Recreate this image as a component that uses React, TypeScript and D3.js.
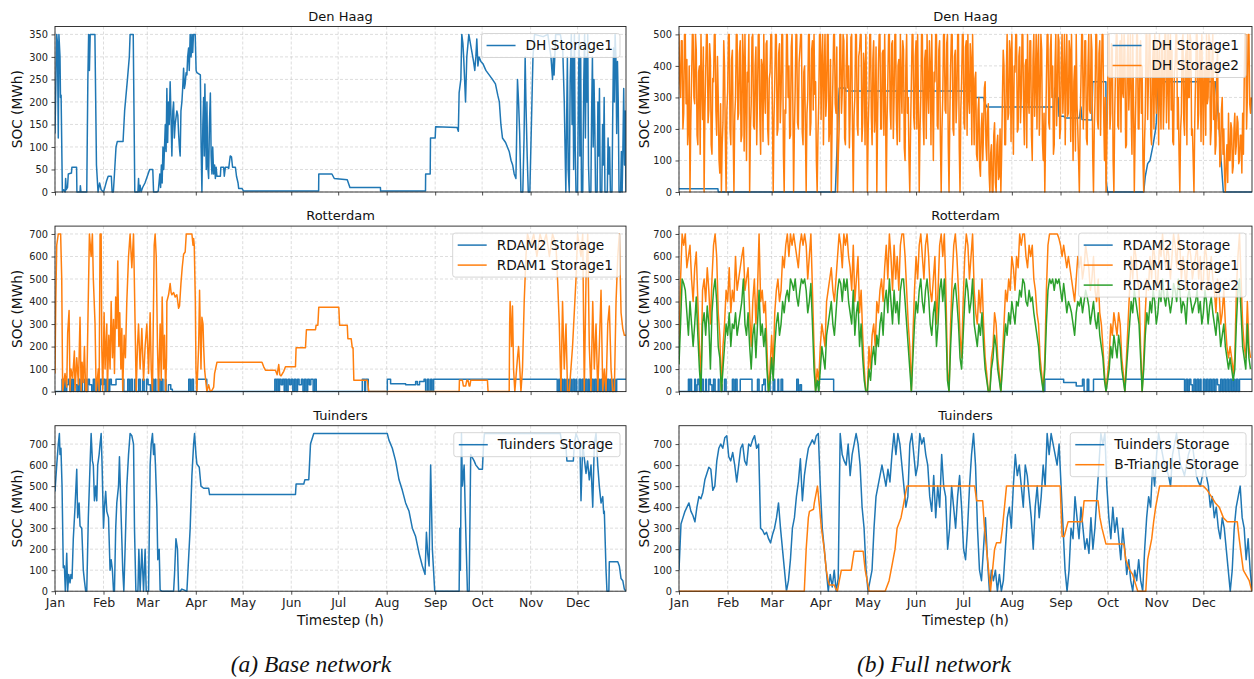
import React, { useEffect, useRef } from "react";
import * as d3 from "d3";

type Pt = [number, number];

// ---------------------------------------------------------------------------
// State of charge (MWh) per storage, as [day of year, SOC] pairs or as
// evenly sampled series. Year: 2019, hourly simulation.
// ---------------------------------------------------------------------------

const MONTH_FORMAT = "%b";

// ---- (a) Base network ----
const DH_STORAGE1_BASE: Pt[] = [
  [0,130],[0.6,250],[1.1,350],[1.6,330],[2.1,120],[2.5,350],[3.2,300],[3.5,210],[3.9,215],[4.7,0],[5.5,5],[6.5,0],[6.8,30],[7.2,5],[8,10],[8.5,40],[10.5,42],[10.8,55],[13.8,55],[14,0],[16,0],[16.2,14],[16.6,0],[20.3,0],[21,250],[21.5,350],[22,270],[22.5,350],[25.5,350],[26.5,60],[27.5,0],[28.5,20],[29.5,5],[31,0],[32,12],[33,25],[34,35],[36,35],[36.5,0],[37.3,0],[38,40],[39,100],[39.8,112],[43.5,112],[44.5,180],[46.3,250],[47.5,300],[48,350],[50,350],[51,0],[53,0],[53.4,30],[53.8,0],[54.4,15],[55,0],[56,10],[57.5,20],[58.5,30],[59.5,40],[60.5,50],[62.5,50],[63,0],[65,0],[66,2],[67,40],[67.5,10],[68,60],[68.5,20],[69,100],[69.5,50],[70.5,150],[71,90],[71.5,230],[72,110],[72.5,200],[73,150],[73.6,245],[74.2,160],[74.7,80],[75.3,180],[75.8,200],[76.3,120],[76.8,150],[77.9,180],[78.5,170],[79,130],[79.5,100],[80,80],[80.5,180],[81.1,200],[81.6,230],[82.2,275],[82.7,230],[83.2,240],[83.8,265],[84.3,260],[84.8,300],[85.4,320],[85.8,270],[86.4,350],[87,300],[87.5,350],[88,310],[88.5,350],[89.6,350],[90.2,270],[90.7,265],[92.9,260],[93.4,100],[93.9,0],[94.5,150],[95,210],[95.4,80],[95.8,240],[96.3,120],[96.7,50],[97.1,200],[97.6,60],[98.2,30],[98.7,150],[99.3,220],[99.8,80],[100.3,40],[100.8,100],[101.4,40],[102,60],[102.5,30],[103,55],[103.5,35],[105.7,35],[106,55],[107.8,55],[108.2,35],[108.9,55],[110.5,55],[111,52],[112,80],[112.8,78],[113.5,55],[115.3,55],[116,35],[117,20],[117.4,8],[119.5,8],[120.5,2],[168.5,2],[168.6,40],[177,40],[178.5,30],[186.8,27],[188.5,10],[208,10],[208.1,2],[236.8,2],[236.9,40],[239.8,40],[240,120],[243,120],[243.3,145],[257,143],[257.8,135],[258.3,220],[259.4,250],[260,350],[260.7,330],[261.2,300],[261.8,250],[262.4,200],[263.2,300],[264.5,350],[265.5,330],[266.5,310],[267.5,290],[268.3,270],[269,300],[269.6,340],[270.3,280],[271,300],[272.2,290],[273.5,285],[275.4,270],[277.5,260],[279.6,250],[281.5,240],[283,215],[284,200],[285,150],[286,120],[288,110],[290.3,90],[291.5,70],[292.5,60],[293.5,40],[294.6,30],[295,110],[295.6,250],[296.3,200],[297,130],[297.8,0],[299,0],[299.8,120],[300.5,300],[301,200],[301.8,80],[302.5,0],[303.5,0],[304.5,150],[305.5,300],[306.5,350],[312,345],[315,350],[317,300],[318,250],[318.5,300],[319,260],[320,350],[323,350],[324.5,320],[325.5,200],[326,100],[326.5,0],[327,150],[327.5,300],[328,50],[328.7,0],[329.3,250],[330,350],[330.5,150],[331,300],[331.5,50],[332,350],[332.5,100],[333,0],[334,0],[334.5,200],[335,350],[335.5,80],[336,300],[336.5,0],[337.3,0],[338,250],[338.5,350],[339,120],[339.5,300],[340,200],[340.5,350],[341,60],[341.5,0],[342.5,0],[343,180],[343.5,300],[344,100],[344.5,250],[345,150],[345.5,0],[346.5,0],[347,200],[347.5,80],[348,230],[348.5,0],[349.5,0],[350,150],[350.5,60],[351,210],[351.5,0],[353,0],[353.5,120],[354,40],[354.5,100],[355,0],[356,0],[356.5,180],[357,320],[357.5,200],[358,350],[358.5,300],[359,130],[359.5,290],[360,200],[360.5,0],[361.5,0],[362,90],[362.5,0],[363,100],[363.5,230],[364,60],[364.5,180],[364.9,0],
];

// Step levels: [start day, SOC]
const RDAM2_STORAGE_BASE: Pt[] = [
  [0,0],[4.5,55],[5.5,0],[6,55],[7,0],[7.5,30],[8.5,55],[9.5,0],[10.5,55],[11.5,0],[12,55],[13,30],[14,0],[15,55],[16,0],[17,55],[17.5,0],[19,55],[20,0],[21,55],[22,30],[23.5,0],[24.5,55],[25.5,0],[27,55],[28,0],[29,55],[30,30],[31,55],[32,0],[33,55],[34,0],[35,55],[36,30],[38,30],[39,55],[43.5,55],[44,0],[46.5,55],[47.5,0],[48.5,55],[49.5,0],[51,55],[52,0],[53.5,55],[54.5,0],[56,55],[57,0],[58.5,55],[59.5,30],[61,0],[62,55],[63,0],[64,55],[64.5,0],[66,55],[67,0],[68,55],[69,0],[70.5,55],[71,0],[72.5,30],[74,10],[75,0],[85.5,55],[86.5,0],[87.5,55],[88.5,0],[90.5,55],[96.5,55],[97,0],[140,0],[140.5,55],[141.5,0],[142,55],[143,0],[143.5,55],[144.5,30],[145.5,55],[146.5,0],[147,55],[148,0],[149,55],[150,30],[151,55],[152,0],[153,55],[154,0],[155,55],[156,30],[157.5,55],[158.5,0],[159.5,55],[160.5,0],[161.5,55],[162.5,30],[163.5,55],[165,0],[166,55],[167,0],[196.4,55],[197.9,0],[198.5,55],[200.2,0],[212.4,55],[214.5,35],[224.1,30],[229.5,30],[230.5,45],[231.6,30],[233,45],[235.9,55],[236.9,0],[238,55],[239,0],[240.1,55],[241,0],[242,55],[320.2,55],[321,0],[322,55],[322.5,0],[323.5,55],[324.5,0],[325.5,55],[326,0],[327,55],[328,0],[329,55],[330,0],[331,55],[332,0],[333,55],[333.5,0],[335,55],[336,0],[337,55],[338,0],[339,55],[340,0],[341,55],[341.5,0],[343,55],[344,0],[345,55],[346,0],[347,55],[348,0],[349,55],[350,0],[351,55],[352,0],[353,55],[354,0],[355,55],[356,0],[357,55],[358,0],[359,55],[364.9,55],
];

const RDAM1_STORAGE1_BASE: Pt[] = [
  [0,80],[0.5,400],[1.1,650],[2.1,700],[3.6,700],[4.3,500],[4.9,0],[6.4,80],[7.5,20],[8.1,260],[9,360],[9.6,0],[10.2,100],[11.3,60],[12.4,180],[12.8,0],[13.9,150],[15,30],[16,330],[16.7,0],[17.3,130],[18.1,40],[18.8,200],[19.6,0],[20.3,0],[21,300],[22,700],[23.1,600],[23.9,700],[24.5,500],[25.6,300],[26.3,0],[27.7,100],[28.2,0],[28.8,700],[29.5,700],[29.9,200],[30.5,0],[31.4,350],[32,100],[33.1,300],[33.5,0],[34.4,250],[35.2,100],[35.9,400],[36.7,150],[37.4,320],[38,80],[38.8,420],[39.5,280],[40.1,580],[40.8,200],[41.4,350],[42.1,100],[42.7,280],[43.3,0],[44.2,250],[45,150],[45.9,400],[47,600],[48,700],[49.1,550],[50.2,700],[51.2,300],[51.9,0],[52.7,200],[53.4,300],[54.4,100],[55.5,280],[56.6,50],[57.6,200],[58.7,300],[59.8,80],[60.8,350],[61.5,100],[62.3,0],[63.4,650],[64,700],[64.7,600],[65.5,200],[66.2,0],[67.2,300],[67.9,50],[68.5,420],[69.4,100],[70,250],[70.7,0],[71.3,150],[71.5,400],[72.6,430],[73.6,480],[74.2,440],[74.7,430],[75.8,440],[76.8,420],[77.9,430],[79,370],[79.6,380],[80.5,480],[81.3,550],[82.2,610],[83.2,620],[83.9,700],[87.5,700],[88.2,650],[88.6,680],[89,650],[89.7,400],[90.1,100],[90.7,0],[91.8,200],[92.4,450],[93.3,100],[93.9,330],[94.6,300],[95,200],[95.6,100],[96.3,50],[97.1,0],[98.2,30],[99.3,0],[100.3,5],[101.4,20],[102,80],[102.9,110],[103.5,130],[132.3,130],[133.4,110],[134.5,95],[138.7,95],[140.9,95],[142,75],[143,120],[143.7,75],[144.5,70],[146.2,90],[147.3,110],[153.7,110],[154.1,195],[160.1,195],[160.7,275],[166.5,275],[166.9,295],[168,295],[168.6,375],[181.4,375],[181.9,295],[186.8,295],[187.2,235],[189.3,235],[190,195],[190.5,195],[191,50],[199.6,50],[200.6,0],[258.3,0],[258.5,50],[260.4,50],[261,25],[262.5,25],[263.2,50],[264,50],[264.7,25],[265.2,25],[265.7,50],[276.4,50],[276.8,0],[290.3,0],[290.6,300],[290.9,400],[291.8,200],[292.4,380],[293.1,100],[293.9,0],[295.6,150],[296.3,200],[297.1,100],[297.8,0],[298.8,100],[299.9,400],[301,600],[302,700],[304,650],[306,700],[308,600],[310,700],[312,650],[314,700],[316,600],[318,700],[320.2,650],[321.2,500],[322.3,300],[323.4,0],[324.4,400],[325.5,100],[326.6,300],[327.6,0],[328.7,0],[330.8,200],[333,500],[334,700],[336.2,600],[337.3,700],[338.3,0],[339.4,500],[340.5,700],[341.5,200],[342.6,0],[343.7,400],[344.7,100],[345.8,300],[346.9,0],[347.9,200],[349,450],[350.1,0],[351.1,100],[352.2,0],[353.3,300],[354.3,380],[355.4,100],[356.5,0],[357.5,0],[358.6,400],[359.7,600],[360.7,700],[361.8,350],[362.9,280],[363.9,250],[364.9,250],
];

const TUINDERS_STORAGE_BASE: Pt[] = [
  [0,475],[1.1,600],[2.1,700],[2.8,750],[3.2,650],[3.8,680],[4.5,500],[5.3,112],[6,120],[6.6,0],[7.5,180],[8.1,0],[8.8,80],[9.6,40],[10.2,80],[10.9,60],[11.7,250],[12.8,400],[13.9,580],[14.5,350],[15.4,420],[16,310],[17.1,300],[18.1,100],[18.8,50],[19.6,0],[20.3,0],[21.3,350],[22.4,600],[23.1,750],[23.9,620],[24.5,600],[25.2,430],[26,500],[26.7,430],[27.3,600],[28.2,650],[28.8,700],[29.5,750],[30.1,600],[31,300],[31.6,400],[32.4,475],[33.1,380],[34.2,350],[35.2,100],[35.9,150],[36.7,100],[37.4,0],[38,0],[38.8,300],[39.5,420],[40.6,500],[41.2,640],[42.1,400],[42.7,250],[43.3,100],[44,0],[44.8,200],[45.9,500],[47,650],[48,750],[49.1,740],[50.2,700],[50.8,300],[51.7,0],[53,0],[53.6,200],[54.4,0],[55.5,200],[56.6,0],[57.6,200],[58.3,0],[59.8,0],[60.8,600],[61.5,700],[62.3,750],[63,650],[63.6,700],[64.2,600],[65.1,400],[65.7,150],[66.6,200],[67.2,5],[68.3,0],[75.8,0],[76.4,80],[77.3,250],[78.3,200],[79,0],[80,0],[81.1,10],[84.3,0],[86.4,300],[87.5,550],[88.6,700],[89.2,750],[90.1,650],[90.7,605],[92.2,590],[93.3,500],[95,490],[98.2,490],[98.8,460],[153.7,460],[154.1,510],[159,510],[159.7,530],[162.2,530],[163.3,700],[165.4,750],[212.4,750],[213.4,720],[215.6,680],[217.7,620],[219.9,530],[222,480],[224.1,420],[226.3,380],[228.4,300],[230.5,260],[232.7,180],[234.8,120],[236.5,80],[237.4,280],[238.2,180],[239.1,120],[240.1,600],[241.2,200],[242.7,0],[258.3,0],[258.7,300],[259.1,100],[259.8,750],[260.4,500],[261.5,600],[262.5,300],[263.6,0],[264.7,0],[265.7,650],[267.9,620],[269,600],[271.1,580],[273.2,580],[273.9,700],[274.5,750],[323,750],[324,700],[326.6,680],[327.2,620],[331.3,620],[331.9,700],[333,750],[335.5,700],[336.2,430],[337.3,700],[339.4,560],[340.4,620],[341.5,530],[342.6,600],[343.7,400],[344.7,700],[345.8,750],[346.9,600],[347.9,500],[349,420],[350.1,450],[350.7,370],[351.1,380],[352.2,100],[352.8,0],[354,0],[354.3,140],[359.7,140],[360.7,120],[361.8,60],[362.9,50],[363.9,10],[364.9,0],
];

// ---- (b) Full network ----
const DH_STORAGE1_FULL: Pt[] = [
  [0,10],[24.8,10],[25,0],[99.6,0],[100.5,120],[101,190],[101.5,280],[102.1,330],[105.9,330],[106,320],[187,320],[187.2,300],[194,300],[194.6,285],[196,270],[239,270],[239.3,330],[240,300],[241.5,300],[242,240],[245,240],[246,235],[255,235],[256,270],[256.7,230],[263,228],[263.5,350],[271.9,350],[272.2,30],[273,0],[296,0],[297,50],[298.5,90],[300,100],[302,150],[303.6,200],[304,220],[305,350],[341.6,350],[342.5,300],[344.1,200],[345,120],[346.7,0],[364.9,0],
];

// Half-daily values (00:00 and 12:00), day 0 .. 364
const DH_STORAGE2_FULL: number[] = [
  500,350,300,480,480,200,250,500,500,280,420,150,200,400,0,220,350,500,500,300,
  280,500,450,180,150,380,400,120,500,340,230,460,0,250,380,500,500,220,260,470,
  420,150,120,360,350,500,500,260,180,430,300,100,60,280,0,150,220,480,400,180,
  0,260,320,500,500,200,150,420,450,180,0,240,300,500,500,230,250,440,480,160,
  180,500,420,130,500,300,100,380,350,500,0,200,280,490,500,210,200,400,460,150,
  300,500,500,240,120,420,400,160,500,320,250,470,480,200,150,360,380,500,500,250,
  0,230,350,500,500,180,200,440,470,220,300,500,500,120,0,260,250,500,500,300,
  400,170,180,460,500,280,0,200,320,500,500,220,200,410,450,500,500,190,150,380,
  400,200,0,250,300,500,500,180,220,450,480,260,500,310,350,100,0,180,280,500,
  500,230,420,500,150,380,500,240,300,500,500,160,200,420,0,210,350,500,500,280,
  250,460,0,120,200,500,500,250,320,500,480,170,150,400,500,330,400,140,250,490,
  500,200,0,240,300,500,500,210,180,430,450,500,500,160,220,440,400,150,500,300,
  0,200,300,500,500,240,150,420,480,190,250,460,0,230,400,500,500,200,200,440,
  450,180,500,300,0,220,350,500,500,260,200,470,480,170,300,500,500,230,150,400,
  420,160,500,350,250,480,450,140,100,400,500,250,300,100,0,200,350,500,500,240,
  200,430,480,200,500,280,0,190,300,500,500,230,150,420,450,170,500,320,250,480,
  400,150,500,300,100,380,350,500,500,210,200,450,480,160,0,200,300,500,500,260,
  250,470,500,150,0,240,400,500,500,200,180,430,450,220,300,500,500,140,0,260,
  350,500,500,220,200,460,480,180,500,300,250,470,420,150,500,330,150,360,380,120,
  100,260,300,80,50,200,250,100,200,330,350,150,100,250,280,60,0,120,150,0,
  0,180,220,30,0,150,180,40,50,200,0,120,300,450,400,150,150,380,500,230,
  250,480,450,160,500,300,120,400,380,500,500,190,200,430,460,220,300,500,500,260,
  150,400,420,140,500,300,250,480,480,180,100,420,500,240,350,500,200,430,500,180,
  300,500,450,160,100,250,0,180,350,500,500,220,200,450,500,300,400,120,150,400,
  500,210,300,500,480,170,200,420,500,250,350,500,150,380,500,240,250,480,450,160,
  500,300,100,350,400,130,500,280,200,100,0,220,350,500,500,200,300,480,480,170,
  150,400,500,260,250,500,450,120,0,200,300,500,500,230,200,440,480,180,350,500,
  500,250,100,300,0,150,300,500,500,200,250,470,450,100,0,240,380,500,500,210,
  200,460,480,190,500,320,300,500,450,140,150,420,500,260,350,500,250,120,500,300,
  0,180,300,500,500,200,200,450,480,250,400,100,0,160,250,500,500,230,350,500,
  500,180,150,400,450,200,500,330,250,480,400,150,500,300,200,460,480,200,300,500,
  500,220,350,500,200,440,500,260,450,160,150,380,400,500,500,200,300,120,0,200,
  250,480,500,230,180,420,450,150,500,300,300,500,480,180,200,100,0,220,350,500,
  500,200,250,470,450,160,500,330,150,400,400,180,500,280,300,500,480,150,200,420,
  500,230,350,120,150,380,450,200,250,80,100,260,300,120,200,50,0,100,150,30,
  250,100,100,220,200,60,80,200,250,120,150,240,220,90,100,180,180,60,250,120,
  350,500,500,200,300,500,500,280,250,300,
];

const RDAM2_STORAGE_FULL: Pt[] = [
  [0,0],[6,55],[6.5,0],[7,55],[8,0],[10,55],[10.5,0],[11.5,30],[12,55],[13,0],[14.5,55],[15.5,0],[17,55],[17.5,0],[19,55],[20,30],[21,0],[22,55],[23,0],[25,55],[25.5,0],[27,30],[27.5,0],[29,55],[30,0],[34,55],[35,0],[36,55],[37,0],[39,55],[46,55],[46.5,0],[50,55],[51,0],[53,30],[54,55],[55,0],[57,55],[58,0],[60,55],[61,0],[63,55],[63.5,0],[65,55],[66,0],[75,55],[76,0],[77,30],[78,0],[89,55],[98,55],[98.5,0],[233,55],[245,40],[253,25],[257,55],[258,0],[260,55],[261,0],[264,55],[321,55],[322,0],[323,55],[324,0],[325,55],[326,30],[327,0],[328,55],[329,0],[330,55],[331,0],[332,55],[332.5,0],[334,55],[335,0],[336,55],[337,0],[338,55],[339,0],[340,55],[341,0],[342,55],[343,30],[344,0],[345,55],[346,0],[347,55],[348,0],[349,55],[350,0],[351,55],[352,0],[353,55],[354,0],[355,55],[356,0],[357,55],[364.9,55],
];

// Daily values, day 0 .. 364
const RDAM1_STORAGE1_FULL: number[] = [
  200,500,700,650,700,550,600,650,500,400,
  550,620,400,200,50,450,500,400,550,450,
  300,500,650,700,600,350,250,0,200,300,
  450,400,550,350,450,400,600,450,500,550,
  600,640,450,500,550,350,200,400,500,300,
  450,700,400,450,350,400,200,0,100,250,
  100,350,450,500,400,450,600,550,650,700,
  600,700,650,700,650,600,550,650,700,650,
  700,650,500,600,700,450,200,0,100,50,
  200,300,250,200,400,450,500,550,450,400,
  500,600,700,650,550,700,650,700,600,550,
  450,650,400,500,600,350,450,250,100,0,
  0,200,100,250,300,200,400,350,450,500,
  400,550,650,500,700,600,450,650,500,600,
  450,650,700,700,600,450,300,200,0,250,
  450,600,500,650,700,600,500,650,700,600,
  450,400,500,600,300,450,650,700,600,700,
  450,100,0,300,500,650,700,600,450,250,
  150,400,600,700,650,500,600,700,450,350,
  300,450,350,500,300,150,80,0,0,150,
  200,350,300,150,80,0,150,300,450,400,
  500,450,600,550,450,600,550,700,650,700,
  700,600,550,650,600,650,500,450,350,300,
  150,80,0,150,450,650,700,700,700,700,
  700,700,680,650,600,650,600,550,600,550,
  500,450,400,500,600,550,600,500,550,650,
  600,550,450,500,600,450,400,500,350,300,
  200,80,0,80,150,300,250,350,300,250,
  350,300,150,80,0,150,300,450,600,500,
  650,600,500,450,200,0,150,350,500,450,
  600,500,650,600,450,500,650,600,700,600,
  550,650,600,500,600,700,650,550,700,650,
  500,600,550,450,600,650,600,500,550,600,
  650,500,600,450,500,650,600,450,550,600,
  500,450,350,500,450,300,350,450,300,200,
  150,200,150,80,150,450,600,700,500,300,
  200,150,400,200,150,
];

// Daily values, day 0 .. 364
const RDAM1_STORAGE2_FULL: number[] = [
  120,300,500,480,450,350,250,400,300,200,
  300,420,250,100,0,300,350,250,380,300,
  100,350,450,500,400,200,150,0,100,200,
  300,250,350,200,300,280,350,250,300,350,
  400,500,300,250,350,200,100,250,300,150,
  300,450,250,300,200,280,100,0,50,150,
  50,200,300,350,250,300,400,350,420,450,
  400,500,480,450,500,420,380,450,500,480,
  500,450,350,400,480,300,100,0,50,0,
  100,200,150,100,250,300,350,400,300,250,
  350,450,500,480,400,500,450,500,400,350,
  300,450,250,350,400,200,300,150,50,0,
  0,100,50,150,200,120,250,200,300,350,
  250,400,450,350,500,400,300,450,350,400,
  300,450,500,500,400,300,200,100,0,150,
  300,400,350,450,500,400,350,450,500,420,
  300,250,350,400,200,300,450,500,400,500,
  300,50,0,200,350,450,480,400,300,150,
  100,250,400,500,450,350,400,500,300,250,
  200,300,250,350,200,100,50,0,0,100,
  150,250,200,100,50,0,100,200,300,250,
  350,300,400,350,300,400,380,450,420,500,
  480,400,380,450,400,420,350,300,250,200,
  100,50,0,100,300,450,500,480,500,450,
  500,480,500,450,400,480,420,350,400,380,
  350,300,250,350,400,380,420,350,400,450,
  420,380,300,350,400,320,280,350,250,200,
  150,50,0,50,100,200,150,250,200,150,
  250,200,100,50,0,100,200,300,400,350,
  450,400,350,300,150,0,100,250,350,300,
  400,350,450,400,300,350,450,400,500,420,
  380,450,400,350,400,480,450,400,500,450,
  350,400,380,300,420,450,400,350,380,400,
  450,350,400,300,350,450,400,300,380,420,
  350,300,250,350,300,200,250,300,200,150,
  100,150,100,50,100,300,450,500,350,200,
  150,100,300,150,100,
];

// Sampled every TUINDERS_FULL_STEP days, starting at day 0
const TUINDERS_FULL_STEP = 1.2675;
const TUINDERS_STORAGE_FULL: number[] = [
  100,320,350,380,400,420,380,360,330,400,450,440,470,530,560,590,580,480,500,620,
  680,700,680,730,740,640,620,660,600,520,600,680,700,620,600,700,690,720,740,680,
  700,300,290,270,280,250,230,270,300,350,420,300,200,100,0,50,150,300,350,450,
  520,630,430,550,620,680,700,720,700,740,750,500,300,200,100,0,80,20,100,0,
  60,750,650,620,600,700,550,650,700,750,700,600,400,300,100,0,50,100,300,450,
  500,550,600,550,500,580,520,650,750,650,750,700,600,500,400,450,700,750,650,550,
  600,750,700,730,650,600,450,380,550,350,500,400,650,500,450,200,300,500,400,300,
  450,550,400,200,150,300,500,650,750,600,300,100,50,200,350,150,0,100,50,100,
  0,80,0,50,200,350,400,300,500,650,550,600,500,400,600,550,450,350,200,400,
  500,350,450,600,500,750,650,750,700,650,600,700,500,300,100,0,100,300,250,450,
  350,250,400,300,200,250,180,350,200,300,450,600,750,700,750,500,350,250,400,280,
  350,250,150,300,200,80,150,50,0,100,50,150,50,0,200,350,450,400,600,500,
  650,750,700,650,600,580,550,500,650,700,750,680,600,580,550,600,650,680,700,620,
  550,520,500,550,600,550,500,400,450,350,400,300,250,350,300,200,100,0,100,300,
  400,450,500,350,300,150,250,100,0,
];

const B_TRIANGLE_STORAGE_FULL: Pt[] = [
  [0,0],[79.8,0],[81,200],[82.4,350],[83.1,380],[85.7,390],[86.2,420],[88.2,500],[89.5,400],[90.7,300],[92.5,200],[93.8,100],[95,50],[95.8,30],[98.8,30],[99.6,15],[100.9,0],[102.1,50],[103.4,100],[109.7,100],[111.5,190],[117.3,190],[118.6,100],[121.1,0],[131.3,0],[133.8,50],[135.1,100],[137.6,200],[138.9,300],[141.4,350],[142.7,400],[143.9,450],[145.2,500],[188.3,500],[189.6,430],[193.4,430],[194.6,300],[195.9,200],[197.2,100],[198.4,0],[201,200],[202.2,230],[204.8,230],[206,300],[207.3,400],[208.6,500],[242.8,500],[244,260],[245.3,260],[247.8,330],[256.7,330],[258,430],[266.9,430],[268.1,350],[269.4,300],[271.9,225],[283.3,225],[284.6,150],[287.1,100],[288.9,80],[292.2,0],[297.3,0],[298.5,150],[301.1,250],[302.3,330],[303.6,400],[306.1,500],[334,500],[336.5,480],[339.1,450],[341.6,420],[344.1,400],[346.7,350],[349.2,330],[355.6,330],[356.8,250],[359.4,100],[363.2,50],[364.9,0],
];

// ---------------------------------------------------------------------------

const BLUE = "#1f77b4";
const ORANGE = "#ff7f0e";
const GREEN = "#2ca02c";

const sampled = (vals: number[], step: number): Pt[] => vals.map((v, i) => [i * step, v]);

interface Series { name: string; color: string; data: Pt[]; step?: boolean }
interface Panel { col: number; row: number; title: string; yMax: number; yTicks: number[]; series: Series[] }

const PANELS: Panel[] = [
  { col: 0, row: 0, title: "Den Haag", yMax: 367.5, yTicks: d3.range(0, 351, 50),
    series: [{ name: "DH Storage1", color: BLUE, data: DH_STORAGE1_BASE }] },
  { col: 0, row: 1, title: "Rotterdam", yMax: 735, yTicks: d3.range(0, 701, 100),
    series: [
      { name: "RDAM2 Storage", color: BLUE, data: RDAM2_STORAGE_BASE, step: true },
      { name: "RDAM1 Storage1", color: ORANGE, data: RDAM1_STORAGE1_BASE },
    ] },
  { col: 0, row: 2, title: "Tuinders", yMax: 787.5, yTicks: d3.range(0, 701, 100),
    series: [{ name: "Tuinders Storage", color: BLUE, data: TUINDERS_STORAGE_BASE }] },
  { col: 1, row: 0, title: "Den Haag", yMax: 525, yTicks: d3.range(0, 501, 100),
    series: [
      { name: "DH Storage1", color: BLUE, data: DH_STORAGE1_FULL },
      { name: "DH Storage2", color: ORANGE, data: sampled(DH_STORAGE2_FULL, 0.5) },
    ] },
  { col: 1, row: 1, title: "Rotterdam", yMax: 735, yTicks: d3.range(0, 701, 100),
    series: [
      { name: "RDAM2 Storage", color: BLUE, data: RDAM2_STORAGE_FULL, step: true },
      { name: "RDAM1 Storage1", color: ORANGE, data: sampled(RDAM1_STORAGE1_FULL, 1) },
      { name: "RDAM1 Storage2", color: GREEN, data: sampled(RDAM1_STORAGE2_FULL, 1) },
    ] },
  { col: 1, row: 2, title: "Tuinders", yMax: 787.5, yTicks: d3.range(0, 701, 100),
    series: [
      { name: "Tuinders Storage", color: BLUE, data: sampled(TUINDERS_STORAGE_FULL, TUINDERS_FULL_STEP) },
      { name: "B-Triangle Storage", color: ORANGE, data: B_TRIANGLE_STORAGE_FULL },
    ] },
];

const CAPTIONS = ["(a) Base network", "(b) Full network"];

const W = 1254;
const H = 679;
const COLS: [number, number][] = [[55, 626], [679, 1252]];
const YLABEL_X = [21.5, 648.5];
const CAPTION_X = [311, 934];
const ROW_TOP = 26.5;
const ROW_STEP = 199.6;
const PLOT_H = 165.5;
const FONT = "'DejaVu Sans', Verdana, sans-serif";

export default function App() {
  const ref = useRef<SVGSVGElement>(null);

  useEffect(() => {
    const svg = d3.select(ref.current!);
    svg.selectAll("*").remove();
    const defs = svg.append("defs");

    const t0 = Date.UTC(2019, 0, 1);
    const toDate = (d: number) => new Date(t0 + d * 86400000);
    const xDomain = [toDate(0), toDate(364.96)];
    const monthTicks = d3.utcMonth.range(toDate(0), toDate(365));
    const fmt = d3.utcFormat(MONTH_FORMAT);

    PANELS.forEach((p, idx) => {
      const [x0, x1] = COLS[p.col];
      const y0 = ROW_TOP + p.row * ROW_STEP;
      const y1 = y0 + PLOT_H;
      const x = d3.scaleUtc().domain(xDomain).range([x0, x1]);
      const y = d3.scaleLinear().domain([0, p.yMax]).range([y1, y0]);
      const g = svg.append("g");

      // grid
      const grid = g.append("g").attr("stroke", "#b0b0b0").attr("stroke-opacity", 0.55)
        .attr("stroke-width", 0.8).attr("stroke-dasharray", "3,2");
      monthTicks.forEach((m) => {
        grid.append("line").attr("x1", x(m)).attr("x2", x(m)).attr("y1", y0).attr("y2", y1);
      });
      p.yTicks.forEach((v) => {
        grid.append("line").attr("x1", x0).attr("x2", x1).attr("y1", y(v)).attr("y2", y(v));
      });

      // series
      const clipId = `clip-${idx}`;
      defs.append("clipPath").attr("id", clipId).append("rect")
        .attr("x", x0).attr("y", y0 - 1).attr("width", x1 - x0).attr("height", y1 - y0 + 2);
      const lines = g.append("g").attr("clip-path", `url(#${clipId})`);
      p.series.forEach((s) => {
        const line = d3.line<Pt>()
          .x((d) => x(toDate(d[0])))
          .y((d) => y(d[1]))
          .curve(s.step ? d3.curveStepAfter : d3.curveLinear);
        lines.append("path").attr("d", line(s.data)!).attr("fill", "none")
          .attr("stroke", s.color).attr("stroke-width", 1.5).attr("stroke-linejoin", "round");
      });

      // axes
      const yAxis = d3.axisLeft(y).tickValues(p.yTicks).tickSize(3.5).tickPadding(3.5);
      const ya = g.append("g").attr("transform", `translate(${x0},0)`).call(yAxis);
      const xAxis = d3.axisBottom(x).tickValues(monthTicks).tickSize(3.5).tickPadding(3.5)
        .tickFormat((d) => (p.row === 2 ? fmt(d as Date) : ""));
      const xa = g.append("g").attr("transform", `translate(0,${y1})`).call(xAxis);
      [ya, xa].forEach((a) => {
        a.select(".domain").remove();
        a.selectAll("line").attr("stroke", "#222").attr("stroke-width", 0.8);
        a.selectAll("text").attr("fill", "#222").attr("font-family", FONT);
      });
      ya.selectAll("text").attr("font-size", 9.8);
      xa.selectAll("text").attr("font-size", 12.5);

      g.append("rect").attr("x", x0).attr("y", y0).attr("width", x1 - x0).attr("height", y1 - y0)
        .attr("fill", "none").attr("stroke", "#222").attr("stroke-width", 0.9);

      // title
      g.append("text").attr("x", (x0 + x1) / 2).attr("y", y0 - 6).attr("text-anchor", "middle")
        .attr("font-family", FONT).attr("font-size", 13).attr("fill", "#111").text(p.title);

      // y label
      g.append("text").attr("transform", `translate(${YLABEL_X[p.col]},${(y0 + y1) / 2}) rotate(-90)`)
        .attr("text-anchor", "middle").attr("font-family", FONT).attr("font-size", 13.7)
        .attr("fill", "#111").text("SOC (MWh)");

      if (p.row === 2) {
        g.append("text").attr("x", (x0 + x1) / 2).attr("y", y1 + 34).attr("text-anchor", "middle")
          .attr("font-family", FONT).attr("font-size", 13.7).attr("fill", "#111").text("Timestep (h)");
      }

      // legend
      const lg = g.append("g");
      const box = lg.append("rect");
      const texts = p.series.map((s, i) =>
        lg.append("text").attr("y", 12 + i * 20).attr("dy", "0.35em").attr("font-family", FONT)
          .attr("font-size", 13.7).attr("fill", "#111").text(s.name));
      const tw = d3.max(texts, (t) => (t.node() as SVGTextElement).getComputedTextLength()) ?? 0;
      const bw = 44 + tw + 7;
      const bh = 24 + (p.series.length - 1) * 20;
      const bx = x1 - 6 - bw;
      const by = y0 + 7;
      lg.attr("transform", `translate(${bx},${by})`);
      box.attr("width", bw).attr("height", bh).attr("rx", 2.5).attr("fill", "white")
        .attr("fill-opacity", 0.8).attr("stroke", "#cccccc").attr("stroke-width", 0.8);
      texts.forEach((t) => t.attr("x", 44));
      p.series.forEach((s, i) => {
        lg.append("line").attr("x1", 5).attr("x2", 34).attr("y1", 12 + i * 20).attr("y2", 12 + i * 20)
          .attr("stroke", s.color).attr("stroke-width", 1.5);
      });
    });

    CAPTIONS.forEach((c, i) => {
      svg.append("text").attr("x", CAPTION_X[i]).attr("y", 672).attr("text-anchor", "middle")
        .attr("font-family", "'Liberation Serif', 'DejaVu Serif', serif").attr("font-style", "italic")
        .attr("font-size", 23.5).attr("fill", "#111").text(c);
    });
  }, []);

  return (
    <svg
      ref={ref}
      width={W}
      height={H}
      style={{ position: "absolute", left: 0, top: 0, background: "white", display: "block" }}
    />
  );
}
